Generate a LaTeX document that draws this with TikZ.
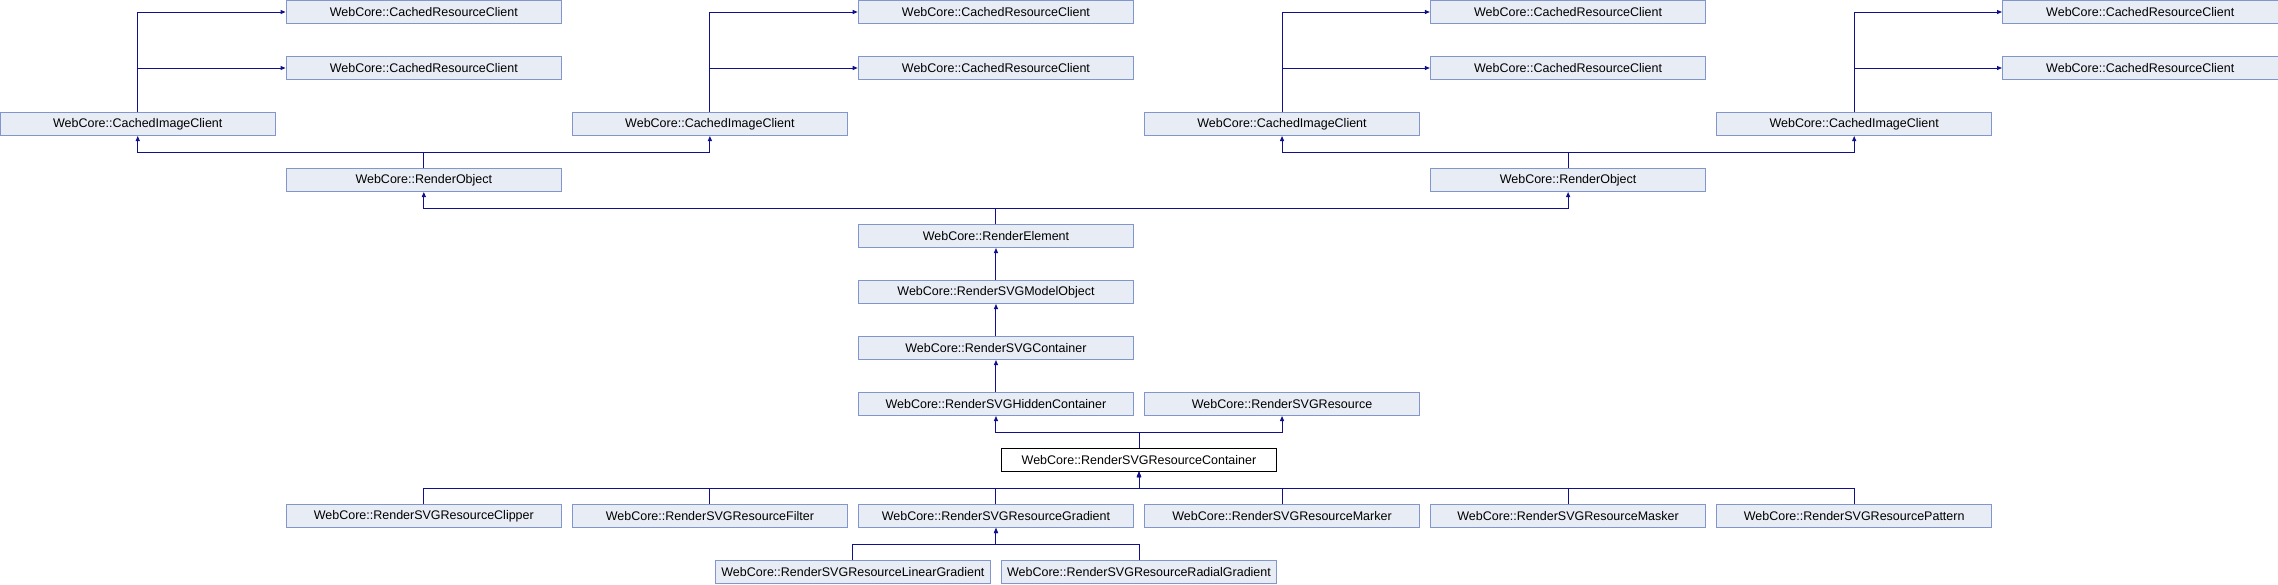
\documentclass[tikz,border=0pt]{standalone}
\usepackage{fontspec}
\setmainfont{Liberation Sans}
\usetikzlibrary{arrows.meta}
\definecolor{nfill}{RGB}{232,236,244}
\definecolor{nborder}{RGB}{128,150,204}
\definecolor{edgecol}{RGB}{16,16,140}
\tikzset{
  cls/.style={draw=nborder, fill=nfill, line width=1pt, minimum width=275.5pt, minimum height=23pt, inner sep=0pt, font=\fontsize{12.5}{14}\selectfont, text=black},
  focus/.style={cls, draw=black, fill=white},
  edge/.style={draw=edgecol, line width=1pt, -{Triangle[length=5pt,width=4pt]}},
}
\begin{document}
\begin{tikzpicture}[x=1pt,y=-1pt]
\useasboundingbox (0,0) rectangle (2278,584);
% row 0 and 1: CachedResourceClient
\node[cls] (crcA1) at (423.82,12) {WebCore::CachedResourceClient};
\node[cls] (crcA2) at (423.82,68) {WebCore::CachedResourceClient};
\node[cls] (crcB1) at (995.96,12) {WebCore::CachedResourceClient};
\node[cls] (crcB2) at (995.96,68) {WebCore::CachedResourceClient};
\node[cls] (crcC1) at (1568.10,12) {WebCore::CachedResourceClient};
\node[cls] (crcC2) at (1568.10,68) {WebCore::CachedResourceClient};
\node[cls] (crcD1) at (2140.24,12) {WebCore::CachedResourceClient};
\node[cls] (crcD2) at (2140.24,68) {WebCore::CachedResourceClient};
% row 2: CachedImageClient
\node[cls] (cicA) at (137.75,124) {WebCore::CachedImageClient};
\node[cls] (cicB) at (709.89,124) {WebCore::CachedImageClient};
\node[cls] (cicC) at (1282.03,124) {WebCore::CachedImageClient};
\node[cls] (cicD) at (1854.17,124) {WebCore::CachedImageClient};
% row 3: RenderObject
\node[cls] (roA) at (423.82,180) {WebCore::RenderObject};
\node[cls] (roB) at (1568.10,180) {WebCore::RenderObject};
% rows 4-7
\node[cls] (rel) at (995.96,236) {WebCore::RenderElement};
\node[cls] (rmo) at (995.96,292) {WebCore::RenderSVGModelObject};
\node[cls] (rcon) at (995.96,348) {WebCore::RenderSVGContainer};
\node[cls] (rhid) at (995.96,404) {WebCore::RenderSVGHiddenContainer};
\node[cls] (rres) at (1282.03,404) {WebCore::RenderSVGResource};
% row 8
\node[focus] (rrc) at (1138.99,460) {WebCore::RenderSVGResourceContainer};
% row 9
\node[cls] (clip) at (423.82,516) {WebCore::RenderSVGResourceClipper};
\node[cls] (filt) at (709.89,516) {WebCore::RenderSVGResourceFilter};
\node[cls] (grad) at (995.96,516) {WebCore::RenderSVGResourceGradient};
\node[cls] (mark) at (1282.03,516) {WebCore::RenderSVGResourceMarker};
\node[cls] (mask) at (1568.10,516) {WebCore::RenderSVGResourceMasker};
\node[cls] (patt) at (1854.17,516) {WebCore::RenderSVGResourcePattern};
% row 10
\node[cls] (lin) at (852.93,572) {WebCore::RenderSVGResourceLinearGradient};
\node[cls] (rad) at (1138.99,572) {WebCore::RenderSVGResourceRadialGradient};

% CachedImageClient -> CachedResourceClient
\foreach \c/\t in {cicA/crcA, cicB/crcB, cicC/crcC, cicD/crcD}{
  \draw[edge] (\c.north) |- (\t1.west);
  \draw[edge] (\c.north) |- (\t2.west);
}
% RenderObject -> CachedImageClient
\draw[edge] (roA.north) -- (roA.north |- 0,152) -| (cicA.south);
\draw[edge] (roA.north) -- (roA.north |- 0,152) -| (cicB.south);
\draw[edge] (roB.north) -- (roB.north |- 0,152) -| (cicC.south);
\draw[edge] (roB.north) -- (roB.north |- 0,152) -| (cicD.south);
% RenderElement -> RenderObject
\draw[edge] (rel.north) -- (rel.north |- 0,208) -| (roA.south);
\draw[edge] (rel.north) -- (rel.north |- 0,208) -| (roB.south);
% chain
\draw[edge] (rmo.north) -- (rel.south);
\draw[edge] (rcon.north) -- (rmo.south);
\draw[edge] (rhid.north) -- (rcon.south);
% ResourceContainer -> Hidden / Resource
\draw[edge] (rrc.north) -- (rrc.north |- 0,432) -| (rhid.south);
\draw[edge] (rrc.north) -- (rrc.north |- 0,432) -| (rres.south);
% children -> ResourceContainer
\foreach \n in {clip,filt,grad,mark,mask,patt}{
  \draw[edge] (\n.north) -- (\n.north |- 0,488) -| (rrc.south);
}
% gradients -> Gradient
\draw[edge] (lin.north) -- (lin.north |- 0,544) -| (grad.south);
\draw[edge] (rad.north) -- (rad.north |- 0,544) -| (grad.south);
\end{tikzpicture}
\end{document}
